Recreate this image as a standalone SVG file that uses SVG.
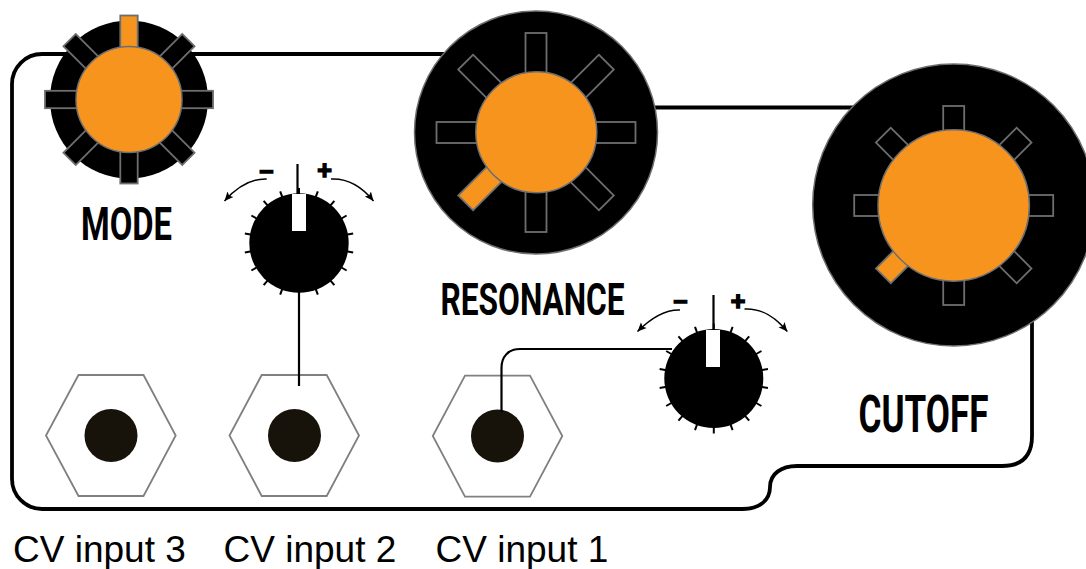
<svg xmlns="http://www.w3.org/2000/svg" width="1086" height="569" viewBox="0 0 1086 569">
<style>
.panel{fill:none;stroke:#000;stroke-width:3.8}
.wire{fill:none;stroke:#000;stroke-width:2.2}
.turn{fill:none;stroke:#000;stroke-width:1.5;marker-end:url(#head)}
.hex{fill:#fff;stroke:#808080;stroke-width:1.8}
.hole{fill:#17130a}
.body{fill:#000}
.rim{fill:#000;stroke:#6d6e71;stroke-width:1.5}
.cap{fill:#f7941e;stroke:#6d6e71;stroke-width:1.5}
.slot{fill:#000;stroke:#6d6e71;stroke-width:1.8}
.on{fill:#f7941e}
.tick{stroke:#000;stroke-width:2}
.needle{fill:#fff}
.big{font-family:"Roboto","Liberation Sans",sans-serif;font-weight:700;fill:#000}
.cv{font-family:"Liberation Sans",sans-serif;font-size:37px;fill:#000}
.sign{font-family:"Liberation Sans",sans-serif;font-weight:700;font-size:25px;fill:#000;stroke:#000;stroke-width:1.5;text-anchor:middle}
</style>
<defs>
<marker id="head" markerUnits="userSpaceOnUse" markerWidth="11" markerHeight="10" refX="9" refY="4.500" orient="auto"><path d="M0 0.500L9 4.500L0 8.500L2 4.500Z" fill="#000"/></marker>
<g id="ticks">
<line class="tick" y1="-48" y2="-55"/>
<line class="tick" y1="-48" y2="-55" transform="rotate(20)"/>
<line class="tick" y1="-48" y2="-55" transform="rotate(40)"/>
<line class="tick" y1="-48" y2="-55" transform="rotate(60)"/>
<line class="tick" y1="-48" y2="-55" transform="rotate(80)"/>
<line class="tick" y1="-48" y2="-55" transform="rotate(100)"/>
<line class="tick" y1="-48" y2="-55" transform="rotate(120)"/>
<line class="tick" y1="-48" y2="-55" transform="rotate(140)"/>
<line class="tick" y1="-48" y2="-55" transform="rotate(160)"/>
<line class="tick" y1="-48" y2="-55" transform="rotate(180)"/>
<line class="tick" y1="-48" y2="-55" transform="rotate(200)"/>
<line class="tick" y1="-48" y2="-55" transform="rotate(220)"/>
<line class="tick" y1="-48" y2="-55" transform="rotate(240)"/>
<line class="tick" y1="-48" y2="-55" transform="rotate(260)"/>
<line class="tick" y1="-48" y2="-55" transform="rotate(280)"/>
<line class="tick" y1="-48" y2="-55" transform="rotate(300)"/>
<line class="tick" y1="-48" y2="-55" transform="rotate(320)"/>
<line class="tick" y1="-48" y2="-55" transform="rotate(340)"/>
</g>
</defs>
<rect width="1086" height="569" fill="#fff"/>
<g id="panel"><path class="panel" d="M42 54H536V107.500H1032V436C1032 456 1022 466 1002 466H797C781 466 770 474 770 487C770 500 760 509 742 509H42A30 30 0 0 1 12 479V84A30 30 0 0 1 42 54Z"/></g>
<g id="jack-3"><polygon class="hex" points="46,435.500 78.500,375 143.500,375 175.700,435.500 143.500,496 78.500,496"/><circle class="hole" cx="111" cy="435.500" r="26.500"/></g>
<g id="jack-2"><polygon class="hex" points="229.500,435.500 261.700,375 326.700,375 359,435.500 326.700,496 261.700,496"/><circle class="hole" cx="294.500" cy="435.500" r="26.500"/></g>
<g id="jack-1"><polygon class="hex" points="432.800,436 465,375.700 530,375.700 562.300,436 530,496.700 465,496.700"/><circle class="hole" cx="497.500" cy="436" r="26.500"/></g>
<g id="connectors">
<path class="wire" d="M299 290V386"/>
<path class="wire" d="M672 349H520C508 349 501.500 357 501.500 368V412"/>
<path class="wire" d="M297.500 164V196"/>
<path class="wire" d="M713.500 295V332"/>
<path class="turn" d="M266.700 179C251 178.500 236 188 224.500 201"/>
<path class="turn" d="M331 179C350 178 363 188 373.500 201"/>
<path class="turn" d="M680 310C665 309.500 650 319 637.500 331.500"/>
<path class="turn" d="M744.500 309C763 308 776 318 787.300 331.500"/>
</g>
<g id="knob-mode">
<circle class="body" cx="129" cy="99.500" r="79"/>
<g transform="translate(129 99.500)">
<rect class="slot on" x="-8.700" y="-84" width="17.400" height="40"/>
<rect class="slot" x="-8.700" y="-84" width="17.400" height="40" transform="rotate(45)"/>
<rect class="slot" x="-8.700" y="-84" width="17.400" height="40" transform="rotate(90)"/>
<rect class="slot" x="-8.700" y="-84" width="17.400" height="40" transform="rotate(135)"/>
<rect class="slot" x="-8.700" y="-84" width="17.400" height="40" transform="rotate(180)"/>
<rect class="slot" x="-8.700" y="-84" width="17.400" height="40" transform="rotate(225)"/>
<rect class="slot" x="-8.700" y="-84" width="17.400" height="40" transform="rotate(270)"/>
<rect class="slot" x="-8.700" y="-84" width="17.400" height="40" transform="rotate(315)"/>
</g>
<circle class="cap" cx="129" cy="99.500" r="53"/>
<text class="big" font-size="46" transform="translate(81 240) scale(.7 1)" textLength="130" lengthAdjust="spacingAndGlyphs">MODE</text>
</g>
<g id="knob-resonance">
<circle class="rim" cx="536" cy="132.500" r="121.500"/>
<g transform="translate(536 132.500)">
<rect class="slot" x="-10.500" y="-99.500" width="21" height="50"/>
<rect class="slot" x="-10.500" y="-99.500" width="21" height="50" transform="rotate(45)"/>
<rect class="slot" x="-10.500" y="-99.500" width="21" height="50" transform="rotate(90)"/>
<rect class="slot" x="-10.500" y="-99.500" width="21" height="50" transform="rotate(135)"/>
<rect class="slot" x="-10.500" y="-99.500" width="21" height="50" transform="rotate(180)"/>
<rect class="slot on" x="-10.500" y="-99.500" width="21" height="50" transform="rotate(225)"/>
<rect class="slot" x="-10.500" y="-99.500" width="21" height="50" transform="rotate(270)"/>
<rect class="slot" x="-10.500" y="-99.500" width="21" height="50" transform="rotate(315)"/>
</g>
<circle class="cap" cx="536.300" cy="132.300" r="60.500"/>
<text class="big" font-size="45" transform="translate(440.500 315) scale(.7 1)" textLength="263" lengthAdjust="spacingAndGlyphs">RESONANCE</text>
</g>
<g id="knob-cutoff">
<circle class="rim" cx="953.700" cy="205" r="141"/>
<g transform="translate(953.700 205.500)">
<rect class="slot" x="-10.500" y="-99.500" width="21" height="50"/>
<rect class="slot" x="-10.500" y="-99.500" width="21" height="50" transform="rotate(45)"/>
<rect class="slot" x="-10.500" y="-99.500" width="21" height="50" transform="rotate(90)"/>
<rect class="slot" x="-10.500" y="-99.500" width="21" height="50" transform="rotate(135)"/>
<rect class="slot" x="-10.500" y="-99.500" width="21" height="50" transform="rotate(180)"/>
<rect class="slot on" x="-10.500" y="-99.500" width="21" height="50" transform="rotate(225)"/>
<rect class="slot" x="-10.500" y="-99.500" width="21" height="50" transform="rotate(270)"/>
<rect class="slot" x="-10.500" y="-99.500" width="21" height="50" transform="rotate(315)"/>
</g>
<circle class="cap" cx="953.700" cy="205.500" r="75.700"/>
<text class="big" font-size="51" transform="translate(858.500 432) scale(.68 1)" textLength="191" lengthAdjust="spacingAndGlyphs">CUTOFF</text>
</g>
<g id="attenuator-2">
<use href="#ticks" transform="translate(299 243)"/>
<circle class="body" cx="299" cy="243" r="49.700"/>
<rect class="needle" x="292" y="194" width="14" height="37"/>
<text class="sign" x="266.500" y="179">–</text>
<text class="sign" x="324.500" y="178.500">+</text>
</g>
<g id="attenuator-1">
<use href="#ticks" transform="translate(713.800 378.500)"/>
<circle class="body" cx="713.800" cy="378.500" r="49.500"/>
<rect class="needle" x="706" y="330" width="14" height="37"/>
<text class="sign" x="680.500" y="309">–</text>
<text class="sign" x="738" y="309.500">+</text>
</g>
<g id="labels">
<text class="cv" x="13" y="562">CV input 3</text>
<text class="cv" x="223.500" y="562">CV input 2</text>
<text class="cv" x="435.500" y="562">CV input 1</text>
</g>
</svg>
